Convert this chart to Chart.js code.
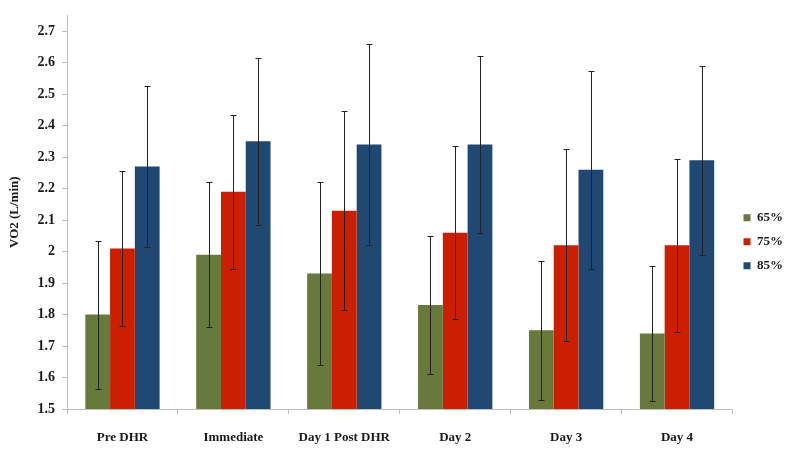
<!DOCTYPE html>
<html>
<head>
<meta charset="utf-8">
<script src="https://cdn.jsdelivr.net/npm/chart.js@4"></script>
<style>
    html, body { margin: 0; padding: 0; background: #ffffff; }
    #wrap { width: 795px; height: 456px; }
</style>
</head>
<body>
<div id="wrap"><canvas id="vo2"></canvas></div>
<script>
const CATEGORIES = ['Pre DHR', 'Immediate', 'Day 1 Post DHR', 'Day 2', 'Day 3', 'Day 4'];
const SERIES = ['65%', '75%', '85%'];

const VALUES_65 = [1.80, 1.99, 1.93, 1.83, 1.75, 1.74];
const VALUES_75 = [2.01, 2.19, 2.13, 2.06, 2.02, 2.02];
const VALUES_85 = [2.27, 2.35, 2.34, 2.34, 2.26, 2.29];

const ERRORS_65 = [0.235, 0.23, 0.29, 0.22, 0.22, 0.215];
const ERRORS_75 = [0.245, 0.245, 0.315, 0.275, 0.305, 0.275];
const ERRORS_85 = [0.255, 0.265, 0.32, 0.28, 0.315, 0.30];

const Y_TICKS = [1.5, 1.6, 1.7, 1.8, 1.9, 2, 2.1, 2.2, 2.3, 2.4, 2.5, 2.6, 2.7];

const COLORS = {
    green: '#677a3b',
    red: '#cc1e00',
    blue: '#1f4873',
    axis: '#bfbfbf',
    text: '#1a1a1a'
};

const FONT = { family: '"Liberation Serif", "Times New Roman", serif', size: 13, weight: 'bold' };
const FONT_Y = { family: '"Liberation Serif", "Times New Roman", serif', size: 14, weight: 'bold' };

// simple error bar drawing on top of the bars
const errorBars = {
    id: 'errorBars',
    afterDatasetsDraw(chart) {
        const ctx = chart.ctx;
        const yScale = chart.scales.y;
        ctx.save();
        ctx.strokeStyle = '#222222';
        ctx.lineWidth = 1;
        chart.data.datasets.forEach(function (ds, di) {
            const meta = chart.getDatasetMeta(di);
            meta.data.forEach(function (bar, i) {
                const v = ds.data[i];
                const e = ds.errors[i];
                const x = Math.round(bar.x) + 0.5;
                const yTop = Math.round(yScale.getPixelForValue(v + e)) + 0.5;
                const yBot = Math.round(yScale.getPixelForValue(v - e)) + 0.5;
                ctx.beginPath();
                ctx.moveTo(x, yTop);
                ctx.lineTo(x, yBot);
                ctx.moveTo(x - 3, yTop);
                ctx.lineTo(x + 3, yTop);
                ctx.moveTo(x - 3, yBot);
                ctx.lineTo(x + 3, yBot);
                ctx.stroke();
            });
        });
        ctx.restore();
    }
};

var data = {
    labels: CATEGORIES,
    datasets: [
        { label: SERIES[0], data: VALUES_65, errors: ERRORS_65, backgroundColor: COLORS.green },
        { label: SERIES[1], data: VALUES_75, errors: ERRORS_75, backgroundColor: COLORS.red },
        { label: SERIES[2], data: VALUES_85, errors: ERRORS_85, backgroundColor: COLORS.blue }
    ]
};

var options = {
    responsive: true,
    maintainAspectRatio: false,
    animation: false,
    datasets: {
        bar: {
            categoryPercentage: 0.67,
            barPercentage: 1.0,
            borderWidth: 0
        }
    },
    layout: {
        padding: { top: 12, left: 0, right: 2, bottom: 0 }
    },
    scales: {
        x: {
            afterFit: function (scale) {
                scale.height = 47;
            },
            grid: {
                display: true,
                drawOnChartArea: false,
                drawTicks: true,
                tickLength: 5,
                offset: true,
                color: COLORS.axis
            },
            border: { color: COLORS.axis },
            ticks: {
                color: COLORS.text,
                font: FONT,
                padding: 16,
                maxRotation: 0,
                autoSkip: false
            }
        },
        y: {
            min: 1.5,
            max: 2.75,
            afterFit: function (scale) {
                scale.width = 67;
            },
            afterBuildTicks: function (axis) {
                axis.ticks = Y_TICKS.map(function (v) { return { value: v }; });
            },
            grid: {
                drawOnChartArea: false,
                drawTicks: true,
                tickLength: 5,
                color: COLORS.axis
            },
            border: { color: COLORS.axis },
            ticks: {
                color: COLORS.text,
                font: FONT_Y,
                padding: 7,
                callback: function (value) {
                    return String(Math.round(value * 10) / 10);
                }
            },
            title: {
                display: true,
                text: 'VO2 (L/min)',
                color: COLORS.text,
                font: FONT,
                padding: { top: 7, bottom: 0 }
            }
        }
    },
    plugins: {
        legend: {
            position: 'right',
            title: {
                display: true,
                text: ' ',
                font: FONT,
                padding: 0
            },
            labels: {
                boxWidth: 7,
                boxHeight: 7,
                padding: 11,
                color: COLORS.text,
                font: FONT
            }
        },
        tooltip: { enabled: false }
    }
};

var barChart = new Chart(document.getElementById('vo2'), {
    type: 'bar',
    data: data,
    options: options,
    plugins: [errorBars]
});
</script>
</body>
</html>
